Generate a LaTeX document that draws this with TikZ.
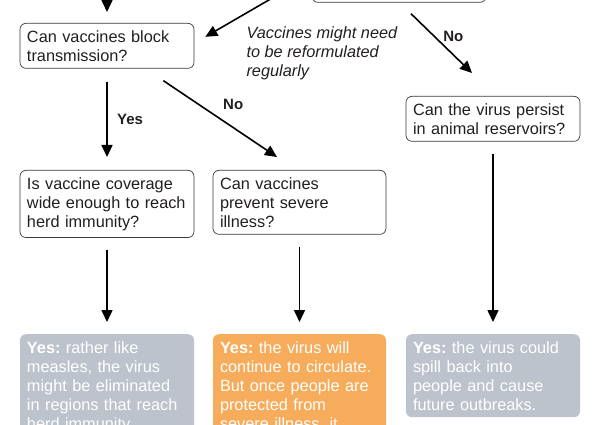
\documentclass[tikz,border=0pt]{standalone}
\usepackage{fontspec}
\setmainfont{Liberation Sans}
\usetikzlibrary{arrows.meta,calc,positioning}
\definecolor{qline}{HTML}{3A3A3A}
\definecolor{ansgrey}{HTML}{BCC3CC}
\definecolor{ansorange}{HTML}{F6AC5A}
\definecolor{inktext}{HTML}{231F20}
\frenchspacing
\tikzset{
  ques/.style   = {draw=qline, line width=0.7pt, fill=white, rounded corners=6pt,
                   align=left, text width=160pt, inner sep=7pt, anchor=north,
                   text=inktext, font=\fontsize{16.3}{19}\selectfont},
  ans/.style    = {fill=#1, rounded corners=6pt, align=left, text width=160pt,
                   inner sep=7pt, anchor=north, text=white,
                   font=\fontsize{16.3}{19}\selectfont},
  flow/.style   = {-{Triangle[length=12pt,width=11pt]}, line width=1.6pt, black},
  lbl/.style    = {font=\fontsize{15}{17}\selectfont\bfseries, text=inktext},
}

\begin{document}
\begin{tikzpicture}[x=1pt,y=-1pt]
  \useasboundingbox (0,0) rectangle (600,425);
  \clip (0,0) rectangle (600,425);

  % questions
  \node[ques, minimum width=172pt, minimum height=60pt] (top) at (399,-58) {};
  \node[ques] (q1) at (107,23) {Can vaccines block\\transmission?};
  \node[ques] (q2) at (493,96) {Can the virus persist\\in animal reservoirs?};
  \node[ques] (q3) at (107,170) {Is vaccine coverage\\wide enough to reach\\herd immunity?};
  \node[ques, text width=159pt] (q4) at (299.5,170) {Can vaccines\\prevent severe\\illness?};

  % outcomes
  \node[ans=ansgrey] (a1) at (107,334)
    {\textbf{Yes:} rather like\\measles, the virus\\might be eliminated\\in regions that reach\\herd immunity.};
  \node[ans=ansorange, text width=159pt] (a2) at (299.5,334)
    {\textbf{Yes:} the virus will\\continue to circulate.\\But once people are\\protected from\\severe illness, it};
  \node[ans=ansgrey] (a3) at (493,334)
    {\textbf{Yes:} the virus could\\spill back into\\people and cause\\future outbreaks.};

  \node[anchor=north west, align=left, text=inktext,
        font=\fontsize{16.3}{19}\selectfont\itshape] (note) at (243,23)
    {Vaccines might need\\to be reformulated\\regularly};

  % connectors
  \coordinate (in1) at (107,-8);
  \coordinate (in2) at (274,-3);
  \draw[flow, shorten >=11pt] (in1) -- (q1.north);
  \draw[flow] (in2) -- ($(q1.east)+(11,-9)$);
  \draw[flow] ($(top.south)+(12,11)$) -- ($(q2.north)+(-21,-23)$)
    node[lbl, pos=0.4, xshift=18pt, yshift=1pt] {No};
  \draw[flow, shorten <=13pt, shorten >=13pt] (q1.south) -- (q3.north)
    node[lbl, midway, right=6pt] {Yes};
  \draw[flow] ($(q1.south east)+(-31,12)$) -- ($(q4.north)+(-22.5,-13)$)
    node[lbl, pos=0.5, xshift=13pt, yshift=14pt] {No};
  \draw[flow, shorten <=12pt, shorten >=12pt] (q3.south) -- (a1.north);
  \draw[flow, shorten <=12pt, shorten >=12pt] (q4.south) -- (a2.north);
  \draw[flow, shorten <=12pt, shorten >=12pt] (q2.south) -- (a3.north);
\end{tikzpicture}
\end{document}
